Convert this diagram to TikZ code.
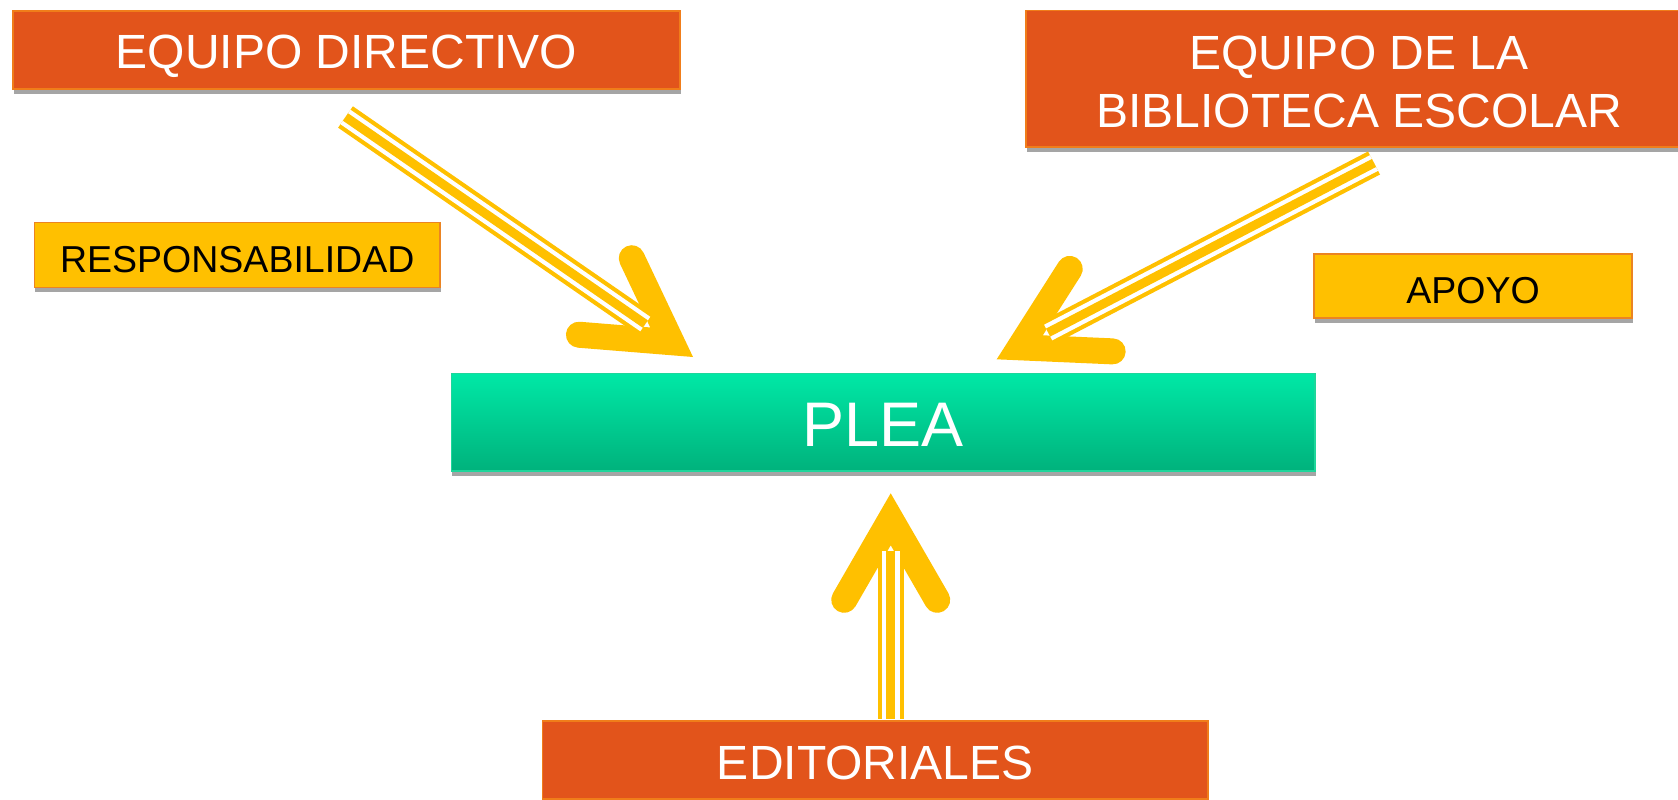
\documentclass[tikz,border=0pt]{standalone}
\usepackage{fontspec}
\setmainfont{Liberation Sans}
\usetikzlibrary{calc,shadows}
\definecolor{orfill}{HTML}{E2541B}
\definecolor{ordraw}{HTML}{F07D1A}
\definecolor{yel}{HTML}{FFC000}
\definecolor{yeldraw}{HTML}{EB8422}
\definecolor{pleatop}{HTML}{00E8A6}
\definecolor{pleabot}{HTML}{00B27C}
\definecolor{pleadraw}{HTML}{1ED69B}
\definecolor{shadowgray}{HTML}{A5A5A5}
\tikzset{
  boxshadow/.style={general shadow={fill=shadowgray, shadow xshift=0.8pt, shadow yshift=-4.5pt}},
  orbox/.style={boxshadow, draw=ordraw, line width=1.5pt, fill=orfill, text=white,
    inner sep=0pt, align=center, text depth=0pt, text height=38pt,
    font=\fontsize{48}{57.5}\selectfont},
  yelbox/.style={boxshadow, draw=yeldraw, line width=1.5pt, fill=yel, text=black,
    inner sep=0pt, text depth=0pt, text height=35.4pt, font=\fontsize{37.5}{44}\selectfont},
  pleabox/.style={boxshadow, draw=pleadraw, line width=1.5pt, top color=pleatop, bottom color=pleabot,
    text=white, inner sep=0pt, text depth=0pt, text height=47.5pt, font=\fontsize{63}{70}\selectfont},
  headline/.style={draw=yel, line width=26pt, line cap=round, line join=miter},
  shaftA/.style={draw=yel, line width=26pt},
  shaftB/.style={draw=white, line width=17.6pt},
  shaftC/.style={draw=yel, line width=9pt},
}
\newcommand{\yarrow}[3]{%
  \coordinate (#1v) at ($(#3)!26pt!(#2)$);
  \coordinate (#1e) at ($(#3)!58pt!(#2)$);
  \coordinate (#1a) at ($(#1v)!93pt!30:(#2)$);
  \coordinate (#1b) at ($(#1v)!93pt!-30:(#2)$);
  \draw[headline] (#1a) -- (#1v) -- (#1b);
  \draw[shaftA] (#2) -- (#1e);
  \draw[shaftB] (#2) -- (#1e);
  \draw[shaftC] (#2) -- (#1e);
}
\begin{document}
\begin{tikzpicture}[x=1pt,y=-1pt]
\useasboundingbox (0,0) rectangle (1678,800);
\fill[white] (0,0) rectangle (1678,800);

\node[orbox, minimum width=667pt, minimum height=78pt] (ed) at (346.5,50) {EQUIPO DIRECTIVO};
\node[orbox, text height=96.5pt, minimum width=666pt, minimum height=136.5pt] (eb) at (1359,78.75) {EQUIPO DE LA\\BIBLIOTECA ESCOLAR};
\node[yelbox, minimum width=405.5pt, minimum height=65pt] (resp) at (237.25,255) {RESPONSABILIDAD};
\node[yelbox, minimum width=318pt, minimum height=64pt] (apoyo) at (1473,286) {APOYO};
\node[pleabox, minimum width=863.5pt, minimum height=97.5pt] (plea) at (883.25,422.25) {PLEA};
\node[orbox, minimum width=665.5pt, minimum height=78pt] (edit) at (875.25,760) {EDITORIALES};

\coordinate (s1) at (345.5,117);
\coordinate (t1) at (693,357);
\coordinate (s2) at (1374,163);
\coordinate (t2) at (996.7,359.3);
\coordinate (s3) at (890.7,719);
\coordinate (t3) at (890.7,493.3);

\yarrow{p}{s1}{t1}
\yarrow{q}{s2}{t2}
\yarrow{r}{s3}{t3}
\end{tikzpicture}
\end{document}
